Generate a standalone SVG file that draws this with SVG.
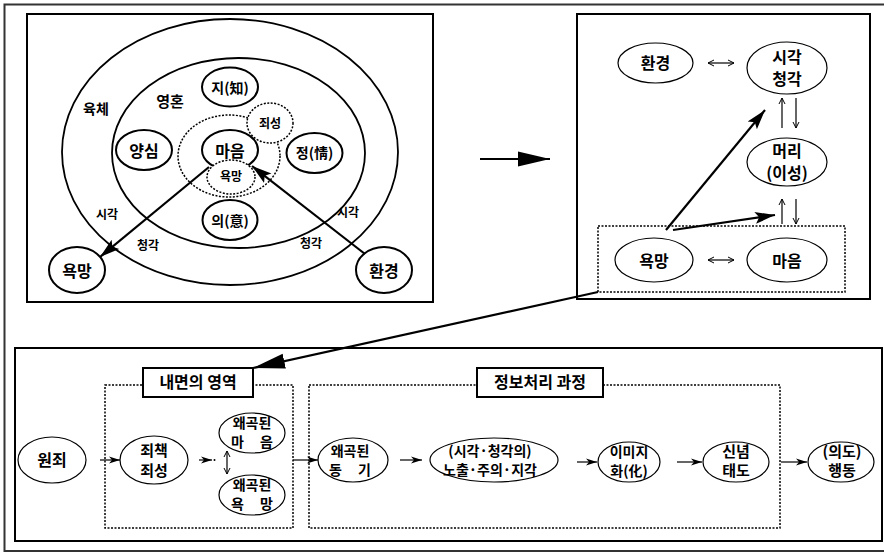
<svg xmlns="http://www.w3.org/2000/svg" width="884" height="553" viewBox="0 0 884 553">
<style>
text{font-family:"Noto Sans CJK KR","Noto Sans",sans-serif;font-weight:bold;fill:#000;text-anchor:middle}
.box{fill:none;stroke:#000;stroke-width:2}
.el{fill:#fff;stroke:#000;stroke-width:2}
.elt{fill:#fff;stroke:#000;stroke-width:1.2}
.big{fill:none;stroke:#000;stroke-width:1.8}
.dot{fill:none;stroke:#000;stroke-width:1.5;stroke-dasharray:2 1.5}
.ln{stroke:#000;stroke-width:2.2;fill:none}
.th{stroke:#000;stroke-width:1.2;fill:none}
.f16{font-size:16px}.f14{font-size:14px}.f12{font-size:12px}.f15{font-size:15px}
</style>
<defs>
<marker id="ah" markerUnits="userSpaceOnUse" markerWidth="12" markerHeight="8" refX="11" refY="4" orient="auto"><path d="M0,0.5 L11,4 L0,7.5 L3,4 z" fill="#000"/></marker>
<marker id="bh" markerUnits="userSpaceOnUse" markerWidth="34" markerHeight="16" refX="32" refY="8" orient="auto"><path d="M0,0.5 L32,8 L0,15.5 z" fill="#000"/></marker>
<marker id="mh" markerUnits="userSpaceOnUse" markerWidth="22" markerHeight="14" refX="20" refY="7" orient="auto"><path d="M0,1 L20,7 L0,13 L4,7 z" fill="#000"/></marker>
<marker id="oh" markerUnits="userSpaceOnUse" markerWidth="8" markerHeight="8" refX="7" refY="4" orient="auto-start-reverse"><path d="M1,1 L7,4 L1,7" fill="none" stroke="#000" stroke-width="1"/></marker>
</defs>
<rect x="0" y="0" width="884" height="553" fill="#fff"/>
<rect x="4.5" y="4.5" width="885" height="546.5" fill="none" stroke="#333" stroke-width="2"/>
<g id="panel-left">
<rect class="box" x="27" y="14" width="406" height="288"/>
<ellipse class="big" cx="230" cy="152" rx="168" ry="133"/>
<ellipse class="big" cx="238.5" cy="153" rx="126.5" ry="95"/>
<ellipse class="dot" cx="229" cy="156" rx="51" ry="41"/>
<text class="f14" x="96" y="114">육체</text>
<text class="f15" x="170" y="107">영혼</text>
<text class="f12" x="107" y="219">시각</text>
<text class="f12" x="148" y="250">청각</text>
<text class="f12" x="348" y="217">시각</text>
<text class="f12" x="311" y="248">청각</text>
</g>
<g id="n-ji"><ellipse class="el" cx="230" cy="87" rx="28" ry="19.5"/><text class="f14" x="230" y="93">지(知)</text></g>
<g id="n-yangsim"><ellipse class="el" cx="144" cy="150" rx="28" ry="20"/><text class="f16" x="144" y="157">양심</text></g>
<g id="n-maeum"><ellipse class="el" cx="230" cy="150" rx="28" ry="20"/><text class="f16" x="230" y="157">마음</text></g>
<g id="n-jeong"><ellipse class="el" cx="314.5" cy="153" rx="28" ry="20"/><text class="f14" x="314.5" y="158">정(情)</text></g>
<g id="n-ui"><ellipse class="el" cx="230" cy="220" rx="27.5" ry="20"/><text class="f14" x="230" y="226">의(意)</text></g>
<g id="n-joeseong"><ellipse class="dot" cx="270" cy="123" rx="23" ry="20" style="fill:#fff"/><text class="f12" x="270" y="128">죄성</text></g>
<g id="n-yokmang-in"><ellipse class="dot" cx="231" cy="177" rx="24" ry="17" style="fill:#fff"/><text class="f12" x="231" y="181">욕망</text></g>
<g id="n-yokmang-out"><ellipse class="el" cx="77" cy="270" rx="28" ry="23"/><text class="f16" x="77" y="277">욕망</text></g>
<g id="n-hwangyeong-out"><ellipse class="el" cx="384" cy="270" rx="28" ry="23"/><text class="f16" x="384" y="277">환경</text></g>

<g id="panel-right">
<rect class="box" x="577" y="14" width="293" height="285"/>
<rect class="dot" x="598" y="226" width="247" height="66"/>
</g>
<g id="r-hwangyeong"><ellipse class="elt" cx="655.5" cy="63" rx="37.5" ry="20"/><text class="f16" x="655.5" y="69">환경</text></g>
<g id="r-sigak"><ellipse class="elt" cx="787" cy="68" rx="40" ry="26"/><text class="f16" x="787" y="63">시각</text><text class="f16" x="787" y="85">청각</text></g>
<g id="r-meori"><ellipse class="elt" cx="787" cy="162" rx="40" ry="24"/><text class="f16" x="787" y="157">머리</text><text class="f16" x="787" y="179">(이성)</text></g>
<g id="r-yokmang"><ellipse class="elt" cx="654" cy="260" rx="39" ry="22"/><text class="f16" x="654" y="267">욕망</text></g>
<g id="r-maeum"><ellipse class="elt" cx="787" cy="260" rx="40" ry="22"/><text class="f16" x="787" y="267">마음</text></g>

<g id="panel-bottom">
<rect class="box" x="15" y="348" width="867" height="193"/>
<rect class="dot" x="105" y="385" width="188" height="143"/>
<rect class="dot" x="309" y="385" width="471" height="143"/>
</g>
<g id="label-inner"><rect x="143" y="368" width="110" height="29" fill="#fff" stroke="#000" stroke-width="2"/><text class="f16" x="198" y="388">내면의 영역</text></g>
<g id="label-info"><rect x="477" y="368" width="126" height="29" fill="#fff" stroke="#000" stroke-width="2"/><text class="f16" x="540" y="388">정보처리 과정</text></g>
<g id="b-wonjoe"><ellipse class="elt" cx="52" cy="460" rx="34" ry="23"/><text class="f16" x="52" y="466">원죄</text></g>
<g id="b-joechaek"><ellipse class="elt" cx="154" cy="460" rx="34" ry="24"/><text class="f15" x="154" y="456">죄책</text><text class="f15" x="154" y="476">죄성</text></g>
<g id="b-maeum"><ellipse class="elt" cx="252" cy="433" rx="33" ry="20"/><text class="f14" x="252" y="428">왜곡된</text><text class="f14" x="252" y="447" textLength="42" lengthAdjust="spacing">마 음</text></g>
<g id="b-yokmang"><ellipse class="elt" cx="252" cy="495" rx="33" ry="20"/><text class="f14" x="252" y="490">왜곡된</text><text class="f14" x="252" y="509" textLength="42" lengthAdjust="spacing">욕 망</text></g>
<g id="b-donggi"><ellipse class="elt" cx="353" cy="460" rx="35" ry="22"/><text class="f14" x="350" y="456">왜곡된</text><text class="f14" x="350" y="475" textLength="42" lengthAdjust="spacing">동 기</text></g>
<g id="b-nochul"><ellipse class="elt" cx="494" cy="460" rx="64" ry="22"/><text class="f14" x="490" y="456">(시각·청각의)</text><text class="f14" x="490" y="475">노출·주의·지각</text></g>
<g id="b-image"><ellipse class="elt" cx="629" cy="462" rx="31" ry="20"/><text class="f14" x="629" y="457">이미지</text><text class="f14" x="629" y="476">화(化)</text></g>
<g id="b-sinnyeom"><ellipse class="elt" cx="736" cy="462" rx="33" ry="20"/><text class="f15" x="736" y="457">신념</text><text class="f15" x="736" y="476">태도</text></g>
<g id="b-haengdong"><ellipse class="elt" cx="841" cy="462" rx="33" ry="20"/><text class="f15" x="842" y="457">(의도)</text><text class="f15" x="842" y="476">행동</text></g>

<g id="connectors">
<line class="ln" x1="480" y1="159" x2="550" y2="159" marker-end="url(#bh)"/>
<line class="ln" x1="209" y1="167" x2="100" y2="257" marker-end="url(#mh)"/>
<line class="ln" x1="365" y1="254" x2="252" y2="166" marker-end="url(#mh)"/>
<line class="th" x1="708" y1="63" x2="734" y2="63" marker-start="url(#oh)" marker-end="url(#oh)"/>
<line class="th" x1="708" y1="260" x2="734" y2="260" marker-start="url(#oh)" marker-end="url(#oh)"/>
<line class="th" x1="782" y1="128" x2="782" y2="98" marker-end="url(#oh)"/>
<line class="th" x1="796" y1="98" x2="796" y2="128" marker-end="url(#oh)"/>
<line class="th" x1="782" y1="224" x2="782" y2="199" marker-end="url(#oh)" stroke="#555"/>
<line class="th" x1="796" y1="199" x2="796" y2="224" marker-end="url(#oh)"/>
<line class="ln" x1="666" y1="230" x2="765" y2="110" marker-end="url(#mh)"/>
<line class="ln" x1="673" y1="230" x2="775" y2="215" marker-end="url(#mh)"/>
<line class="ln" x1="598" y1="292" x2="253" y2="368" marker-end="url(#bh)"/>
<line class="th" x1="100" y1="460" x2="120" y2="460" marker-end="url(#ah)"/>
<line class="th" x1="199" y1="460" x2="212" y2="460" marker-end="url(#ah)"/>
<circle cx="214.5" cy="460" r="1" fill="#000"/>
<line class="th" x1="227" y1="451" x2="227" y2="474" marker-start="url(#oh)" marker-end="url(#oh)"/>
<line class="th" x1="293" y1="460" x2="318" y2="460" marker-end="url(#ah)"/>
<line class="th" x1="400" y1="460" x2="422" y2="460" marker-end="url(#ah)"/>
<line class="th" x1="577" y1="462" x2="597" y2="462" marker-end="url(#ah)"/>
<line class="th" x1="677" y1="462" x2="702" y2="462" marker-end="url(#ah)"/>
<line class="th" x1="781" y1="462" x2="807" y2="462" marker-end="url(#ah)"/>
</g>
</svg>
